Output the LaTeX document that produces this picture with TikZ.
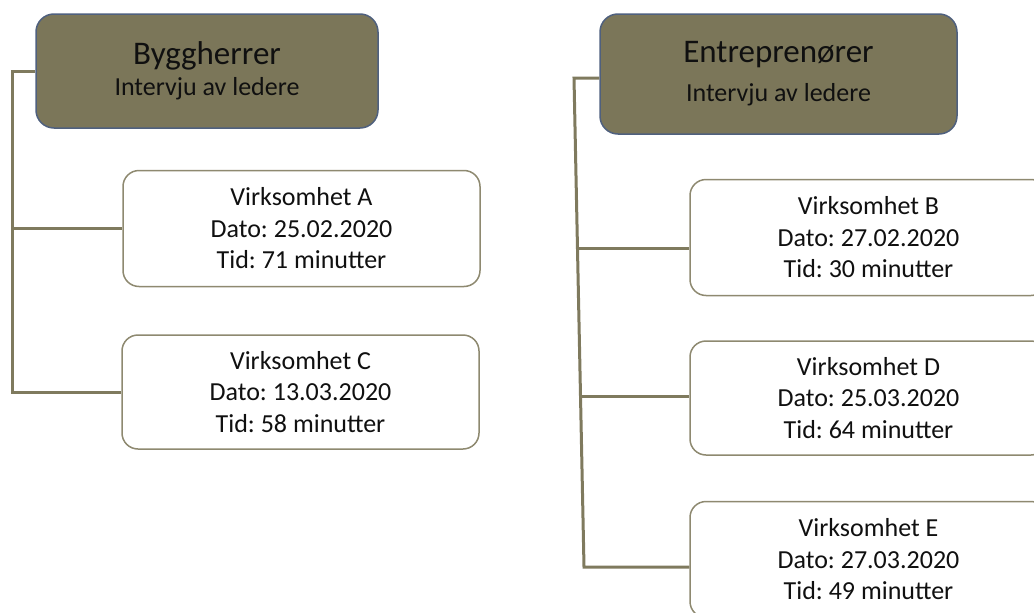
\documentclass[tikz,border=0pt]{standalone}
\usepackage{fontspec}
\setmainfont{Carlito}
\usepackage{tikz}
\usetikzlibrary{calc,positioning}
\frenchspacing

\definecolor{hdrfill}{HTML}{7B7659}
\definecolor{hdrborder}{HTML}{4F607E}
\definecolor{linkcol}{HTML}{7F7A5E}
\definecolor{itemborder}{HTML}{8E8970}
\definecolor{txt}{HTML}{101010}

\begin{document}
\begin{tikzpicture}[x=1pt,y=-1pt]

\tikzset{
  header/.style={rounded corners=18pt, draw=hdrborder, line width=1.5pt, fill=hdrfill,
                 text=txt, align=center, inner sep=0pt,
                 font=\fontsize{26}{31}\selectfont},
  item/.style={rounded corners=16pt, draw=itemborder, line width=1.5pt, fill=white,
               text=txt, align=center, inner sep=0pt,
               minimum width=357pt, minimum height=116pt,
               font=\fontsize{26}{31.5}\selectfont},
  link/.style={draw=linkcol, line width=3pt}
}
\newcommand{\hdrtitle}[1]{{\fontsize{33}{31}\selectfont #1}}

\useasboundingbox (0,0) rectangle (1034,613);

% Headers
\node[header, minimum width=342pt, minimum height=114pt] (hdrL) at (207,71)
  {\hdrtitle{Byggherrer}\\Intervju av ledere};
\node[header, minimum width=357pt, minimum height=120pt] (hdrR) at (778.5,74)
  {\hdrtitle{Entreprenører}\\[8pt]Intervju av ledere};

% Byggherrer
\node[item] (itemA) at (301.5,228.5) {Virksomhet A\\Dato: 25.02.2020\\Tid: 71 minutter};
\node[item, minimum height=114pt] (itemC) at (300.5,392) {Virksomhet C\\Dato: 13.03.2020\\Tid: 58 minutter};

% Entreprenører
\node[item] (itemB) at (868.5,237.5) {Virksomhet B\\Dato: 27.02.2020\\Tid: 30 minutter};
\node[item, minimum height=114pt] (itemD) at (868.5,398) {Virksomhet D\\Dato: 25.03.2020\\Tid: 64 minutter};
\node[item] (itemE) at (868.5,559.5) {Virksomhet E\\Dato: 27.03.2020\\Tid: 49 minutter};

% Lines left
\coordinate (trunkL) at (12,0);
\draw[link] (hdrL.west) -| (trunkL |- itemC.west) -- (itemC.west);
\draw[link] (itemA.west -| trunkL) -- (itemA.west);

% Lines right
\coordinate (trunkRtop) at (574,78);
\coordinate (trunkRbot) at (584,567);
\draw[link] (trunkRtop -| hdrR.west) -- (trunkRtop) -- (trunkRbot) -- (trunkRbot -| itemE.west);
\coordinate (brB) at ($(trunkRtop)!0.349!(trunkRbot)$);
\coordinate (brD) at ($(trunkRtop)!0.652!(trunkRbot)$);
\draw[link] (brB) -- (brB -| itemB.west);
\draw[link] (brD) -- (brD -| itemD.west);

\end{tikzpicture}
\end{document}
